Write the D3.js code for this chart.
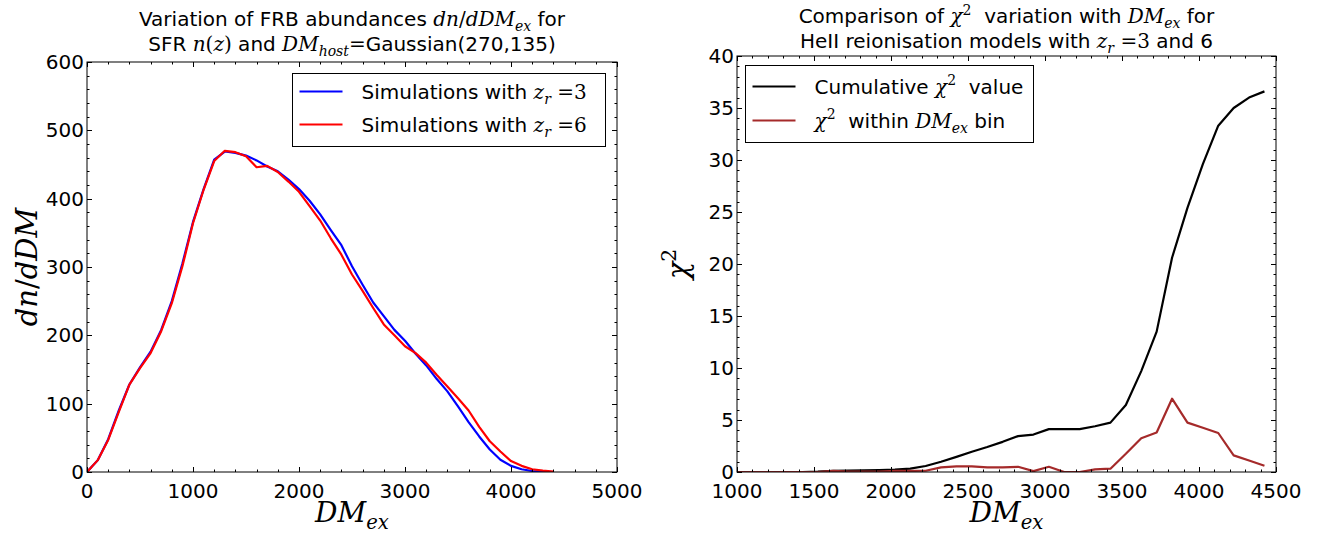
<!DOCTYPE html>
<html><head><meta charset="utf-8">
<script src="https://cdn.jsdelivr.net/npm/d3@7"></script>
<style>body{margin:0;background:#fff}text{white-space:pre}</style>
</head><body>
<svg id="c" width="1327" height="535"></svg>
<script>
// ---------- data ----------
const leftDM = [0,100,200,300,400,500,600,700,800,900,1000,1100,1200,1300,1400,1500,1600,1700,1800,1900,2000,2100,2200,2300,2400,2500,2600,2700,2800,2900,3000,3100,3200,3300,3400,3500,3600,3700,3800,3900,4000,4100,4200,4300,4400];
const simZr3 = [0,17,48,90,128,153,176,208,250,305,366,414,457,469,467,463,456,447,440,428,414,397,377,354,332,301,274,248,228,208,192,173,156,136,118,96,73,52,33,18,9,4,1.5,0.5,0];
const simZr6 = [0,17,47,88,128,152,174,206,247,301,364,413,455,470,468,462,446,448,439,425,410,389,368,342,318,289,265,240,216,200,184,174,160,142,125,108,90,66,45,30,16,9,4,2,0.5];
const leftXTicks = [0,1000,2000,3000,4000,5000];
const leftYTicks = [0,100,200,300,400,500,600];

const rightDM = [925,1025,1125,1225,1325,1425,1525,1625,1725,1825,1925,2025,2125,2225,2325,2425,2525,2625,2725,2825,2925,3025,3125,3225,3325,3425,3525,3625,3725,3825,3925,4025,4125,4225,4325,4425];
const chi2Cumulative = [0,0,0,0,0,0,0.03,0.12,0.14,0.16,0.18,0.22,0.32,0.58,0.98,1.45,1.95,2.4,2.9,3.45,3.6,4.12,4.13,4.13,4.4,4.75,6.45,9.7,13.5,20.6,25.4,29.6,33.3,35.0,36.0,36.6];
const chi2Bin = [0,0,0,0,0,0,0,0.1,0.05,0.05,0.05,0.1,0.1,0.12,0.45,0.55,0.55,0.45,0.45,0.5,0.08,0.5,0,0,0.25,0.32,1.75,3.25,3.8,7.05,4.75,4.25,3.75,1.6,1.1,0.6];
const rightXTicks = [1000,1500,2000,2500,3000,3500,4000,4500];
const rightYTicks = [0,5,10,15,20,25,30,35,40];

// ---------- helpers ----------
const svg = d3.select('#c');
const SANS = 'DejaVu Sans';
const SERIF = 'DejaVu Serif';

function rich(g, x, y, segs, size, anchor, rotate) {
  const t = g.append('text').attr('x', x).attr('y', y)
    .attr('text-anchor', anchor || 'middle').attr('font-size', size).attr('fill', '#000');
  if (rotate) t.attr('transform', `rotate(${rotate},${x},${y})`);
  let shift = 0;
  segs.forEach(s => {
    const [txt, kind, pos] = s;
    const ts = t.append('tspan').text(txt);
    if (kind === 'mi') ts.attr('font-family', SERIF).attr('font-style', 'italic');
    else if (kind === 'rm') ts.attr('font-family', SERIF);
    else ts.attr('font-family', SANS);
    let target = 0, fs = size;
    if (pos === 'sub') { target = size * 0.25; fs = size * 0.7; }
    if (pos === 'sup') { target = -size * 0.42; fs = size * 0.7; }
    ts.attr('font-size', fs);
    if (target !== shift) { ts.attr('dy', target - shift); shift = target; }
  });
  return t;
}

function panel(cfg) {
  const g = svg.append('g');
  const x = d3.scaleLinear().domain(cfg.xd).range([cfg.l, cfg.r]);
  const y = d3.scaleLinear().domain(cfg.yd).range([cfg.b, cfg.t]);
  const clipId = 'clip' + cfg.id;
  svg.append('clipPath').attr('id', clipId).append('rect')
    .attr('x', cfg.l).attr('y', cfg.t).attr('width', cfg.r - cfg.l).attr('height', cfg.b - cfg.t);

  // series
  const line = d3.line().x(d => x(d[0])).y(d => y(d[1]));
  cfg.series.forEach(s => {
    g.append('path').attr('d', line(cfg.xs.map((v, i) => [v, s.v[i]])))
      .attr('fill', 'none').attr('stroke', s.c).attr('stroke-width', 2.2)
      .attr('stroke-linejoin', 'round').attr('clip-path', `url(#${clipId})`);
  });

  // frame
  g.append('rect').attr('x', cfg.l).attr('y', cfg.t).attr('width', cfg.r - cfg.l).attr('height', cfg.b - cfg.t)
    .attr('fill', 'none').attr('stroke', '#000').attr('stroke-width', 1);

  // ticks (inward on all sides)
  const tk = g.append('g').attr('stroke', '#000').attr('stroke-width', 1);
  const xMinor = d3.range(cfg.xd[0], cfg.xd[1] + 1e-9, cfg.xMinor);
  const yMinor = d3.range(cfg.yd[0], cfg.yd[1] + 1e-9, cfg.yMinor);
  const addX = (v, len) => {
    const px = Math.round(x(v)) + 0.5;
    tk.append('line').attr('x1', px).attr('x2', px).attr('y1', cfg.b).attr('y2', cfg.b - len);
    tk.append('line').attr('x1', px).attr('x2', px).attr('y1', cfg.t).attr('y2', cfg.t + len);
  };
  const addY = (v, len) => {
    const py = Math.round(y(v)) + 0.5;
    tk.append('line').attr('y1', py).attr('y2', py).attr('x1', cfg.l).attr('x2', cfg.l + len);
    tk.append('line').attr('y1', py).attr('y2', py).attr('x1', cfg.r).attr('x2', cfg.r - len);
  };
  xMinor.forEach(v => addX(v, 2.5));
  yMinor.forEach(v => addY(v, 2.5));
  cfg.xTicks.forEach(v => addX(v, 5));
  cfg.yTicks.forEach(v => addY(v, 5));

  // tick labels
  cfg.xTicks.forEach(v => g.append('text').attr('x', x(v)).attr('y', cfg.b + 26)
    .attr('text-anchor', 'middle').attr('font-family', SANS).attr('font-size', 20).text(v));
  cfg.yTicks.forEach(v => g.append('text').attr('x', cfg.l - 3).attr('y', y(v) + 7)
    .attr('text-anchor', 'end').attr('font-family', SANS).attr('font-size', 20).text(v));

  // titles
  const cx = (cfg.l + cfg.r) / 2;
  rich(g, cx, cfg.titleY[0], cfg.title1, 20);
  rich(g, cx, cfg.titleY[1], cfg.title2, 20);
  rich(g, cx, 522, [['DM', 'mi'], ['ex', 'mi', 'sub']], 28);
  rich(g, cfg.ylabX, (cfg.t + cfg.b) / 2, cfg.ylab, 29, 'middle', -90);

  // legend
  const L = cfg.legend;
  g.append('rect').attr('x', L.x).attr('y', L.y).attr('width', L.w).attr('height', L.h)
    .attr('fill', '#fff').attr('stroke', '#000').attr('stroke-width', 1);
  L.items.forEach((it, i) => {
    const ly = L.y + L.rowY[i];
    g.append('line').attr('x1', L.x + 7).attr('x2', L.x + 50).attr('y1', ly).attr('y2', ly)
      .attr('stroke', it.c).attr('stroke-width', 2.2);
    rich(g, L.x + 69, ly + 7, it.segs, 20, 'start');
  });
}

panel({
  id: 'L', l: 87, r: 617, t: 62, b: 472,
  xd: [0, 5000], yd: [0, 600], xMinor: 200, yMinor: 20,
  xTicks: leftXTicks, yTicks: leftYTicks, xs: leftDM,
  series: [{ v: simZr3, c: '#0000ff' }, { v: simZr6, c: '#ff0000' }],
  titleY: [26, 51],
  title1: [['Variation of FRB abundances '], ['dn', 'mi'], ['/', 'rm'], ['dDM', 'mi'], ['ex', 'mi', 'sub'], [' for']],
  title2: [['SFR '], ['n', 'mi'], ['(', 'rm'], ['z', 'mi'], [')', 'rm'], [' and '], ['DM', 'mi'], ['host', 'mi', 'sub'], ['=', 'rm'], ['Gaussian(270,135)']],
  ylabX: 37, ylab: [['dn', 'mi'], ['/', 'rm'], ['dDM', 'mi']],
  legend: { x: 292.5, y: 73.5, w: 313, h: 73, rowY: [18, 51],
    items: [
      { c: '#0000ff', segs: [['Simulations with '], ['z', 'mi'], ['r', 'mi', 'sub'], [' =3', 'rm']] },
      { c: '#ff0000', segs: [['Simulations with '], ['z', 'mi'], ['r', 'mi', 'sub'], [' =6', 'rm']] }
    ] }
});

panel({
  id: 'R', l: 737, r: 1276, t: 56, b: 472,
  xd: [1000, 4500], yd: [0, 40], xMinor: 100, yMinor: 1,
  xTicks: rightXTicks, yTicks: rightYTicks, xs: rightDM,
  series: [{ v: chi2Cumulative, c: '#000000' }, { v: chi2Bin, c: '#a52a2a' }],
  titleY: [23, 48],
  title1: [['Comparison of '], ['χ', 'mi'], ['2', 'rm', 'sup'], ['  variation with '], ['DM', 'mi'], ['ex', 'mi', 'sub'], [' for']],
  title2: [['HeII reionisation models with '], ['z', 'mi'], ['r', 'mi', 'sub'], [' =3', 'rm'], [' and 6']],
  ylabX: 688, ylab: [['χ', 'mi'], ['2', 'rm', 'sup']],
  legend: { x: 745.5, y: 65.5, w: 288, h: 77, rowY: [21, 55],
    items: [
      { c: '#000000', segs: [['Cumulative '], ['χ', 'mi'], ['2', 'rm', 'sup'], ['  value']] },
      { c: '#a52a2a', segs: [['χ', 'mi'], ['2', 'rm', 'sup'], ['  within '], ['DM', 'mi'], ['ex', 'mi', 'sub'], [' bin']] }
    ] }
});
</script>
</body></html>
